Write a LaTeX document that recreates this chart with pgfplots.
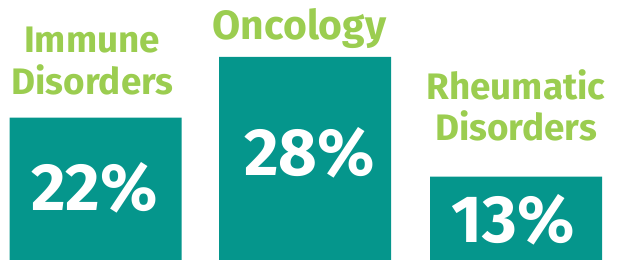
\documentclass[border=0pt]{standalone}
\usepackage{pgfplots}
\pgfplotsset{compat=1.18}
\usepackage{fontspec}
\setmainfont{Fira Sans}
\definecolor{barteal}{RGB}{5,150,140}
\definecolor{labgreen}{RGB}{155,205,80}
\begin{document}
\begin{tikzpicture}
\begin{axis}[
  width=628bp, height=260bp, scale only axis,
  xmin=0, xmax=628, ymin=0, ymax=260,
  axis lines=none, ticks=none, clip=false,
  ybar, bar width=172,
]
\addplot[fill=barteal, draw=none] coordinates {(95.5,142.3) (305,203) (516,83.3)};
\path (rel axis cs:0,0) rectangle (rel axis cs:1,1);
\begin{scope}[every node/.style={inner sep=0pt, anchor=base, font=\bfseries}]
\node[text=white, font=\bfseries\fontsize{67}{67}\selectfont] at (axis cs:94.5,50) {22\%};
\node[text=white, font=\bfseries\fontsize{67}{67}\selectfont] at (axis cs:309.5,84.3) {28\%};
\node[text=white, font=\bfseries\fontsize{67}{67}\selectfont] at (axis cs:513.5,18) {13\%};
\node[text=labgreen, font=\bfseries\fontsize{37}{37}\selectfont] at (axis cs:92,207.7) {Immune};
\node[text=labgreen, font=\bfseries\fontsize{37}{37}\selectfont] at (axis cs:92.5,165.7) {Disorders};
\node[text=labgreen, font=\bfseries\fontsize{41}{41}\selectfont] at (axis cs:299.5,220.7) {Oncology};
\node[text=labgreen, font=\bfseries\fontsize{37}{37}\selectfont] at (axis cs:516,161) {Rheumatic};
\node[text=labgreen, font=\bfseries\fontsize{37}{37}\selectfont] at (axis cs:516,120) {Disorders};
\end{scope}
\end{axis}
\end{tikzpicture}
\end{document}
